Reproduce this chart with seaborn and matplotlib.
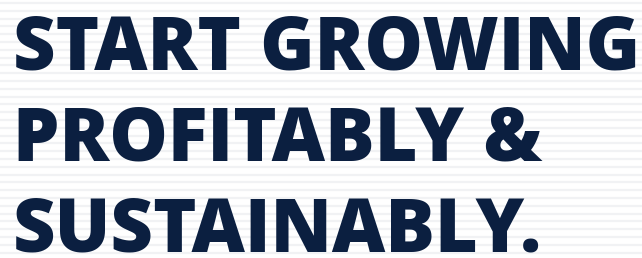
import numpy as np
import matplotlib
matplotlib.use("Agg")
import matplotlib.pyplot as plt
import seaborn as sns

# Tekst
linie = ["START GROWING", "PROFITABLY &", "SUSTAINABLY."]
kolor_tekstu = "#0b1f40"
kolor_pasow = "#f1f2f4"

sns.set_style("white")
plt.rcParams['font.family'] = ['Open Sans', 'DejaVu Sans']

fig = plt.figure(figsize=(6.42, 2.58), dpi=100)
ax = fig.add_axes([0, 0, 1, 1])
ax.set_xlim(0, 642)
ax.set_ylim(258, 0)
ax.axis("off")

# paski w tle
pasy = np.arange(3, 258, 7.8)
ax.hlines(pasy, 0, 642, color=kolor_pasow, linewidth=1.6, zorder=0)

# linie tekstu
for i, t in enumerate(linie):
    ax.text(13, 70 + i * 90.5, t, fontsize=53, fontweight=800,
            color=kolor_tekstu, va="baseline", ha="left", zorder=2)

fig.savefig("out.png", dpi=100, facecolor="white")
